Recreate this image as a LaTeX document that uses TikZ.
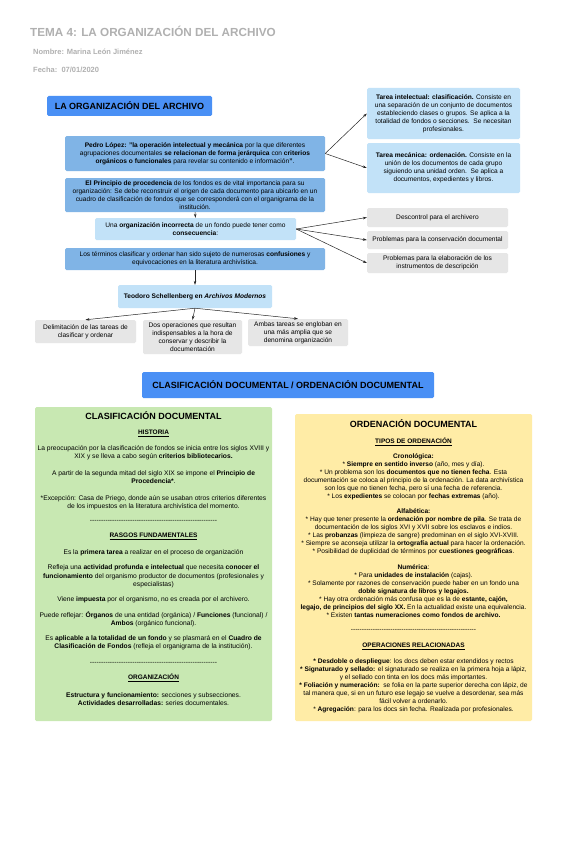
\documentclass[tikz,border=0pt]{standalone}
\usepackage{fontspec}
\setmainfont{Liberation Sans}
\usetikzlibrary{arrows.meta}
\definecolor{bblue}{RGB}{74,144,245}
\definecolor{mblue}{RGB}{128,180,230}
\definecolor{lblue}{RGB}{194,226,248}
\definecolor{gbox}{RGB}{230,230,230}
\definecolor{gfill}{RGB}{200,232,178}
\definecolor{yfill}{RGB}{255,236,166}
\definecolor{ttl}{RGB}{176,176,176}
\newcommand\hy{-\kern0pt}
\newcommand\dashrow{\foreach \i in {1,...,57}{\hy}}
\begin{document}
\begin{tikzpicture}[x=1pt,y=-1pt,
  bx/.style={rounded corners=1.5pt, align=center, inner sep=0pt, font=\fontsize{6.6}{8}\selectfont},
  arr/.style={-{Stealth[length=4pt,width=2.6pt]}, line width=0.5pt, black!85},
  gtxt/.style={align=center, inner sep=0pt, font=\fontsize{6.7}{8.4}\selectfont},
  ytxt/.style={align=center, inner sep=0pt, font=\fontsize{6.6}{8}\selectfont},
  head/.style={align=center, inner sep=0pt, font=\bfseries\fontsize{9}{11}\selectfont},
  sub/.style={align=center, inner sep=0pt, font=\bfseries\fontsize{6.5}{8}\selectfont},
  hdr/.style={anchor=west, inner sep=0pt, text=ttl}
  ]
\useasboundingbox (0,0) rectangle (569,848);
\fill[white] (0,0) rectangle (569,848);

% header
\node[hdr, font=\bfseries\fontsize{11.7}{14}\selectfont] (title) at (30,31) {TEMA 4: LA ORGANIZACIÓN DEL ARCHIVO};
\node[hdr, font=\bfseries\fontsize{7.5}{9}\selectfont] (name) at (33,52) {Nombre: Marina León Jiménez};
\node[hdr, font=\bfseries\fontsize{7.5}{9}\selectfont] (date) at (33,70) {Fecha:\ \ 07/01/2020};

% top diagram
\node[bx, fill=bblue, minimum width=165, minimum height=20, font=\bfseries\fontsize{9}{11}\selectfont] (main) at (129.5,106) {LA ORGANIZACIÓN DEL ARCHIVO};

\node[bx, fill=mblue, minimum width=260, minimum height=35] (pedro) at (195,153.5)
{\textbf{Pedro López: "la operación intelectual y mecánica} por la que diferentes\\
agrupaciones documentales \textbf{se relacionan de forma jerárquica} con \textbf{criterios}\\
\textbf{orgánicos o funcionales} para revelar su contenido e información\textbf{"}.};

\node[bx, fill=mblue, minimum width=260, minimum height=34] (princ) at (195,195)
{\textbf{El Principio de procedencia} de los fondos es de vital importancia para su\\
organización: Se debe reconstruir el origen de cada documento para ubicarlo en un\\
cuadro de clasificación de fondos que se corresponderá con el organigrama de la\\
institución.};

\node[bx, fill=lblue, minimum width=201, minimum height=22] (unaorg) at (195.5,229)
{Una \textbf{organización incorrecta} de un fondo puede tener como\\ \textbf{consecuencia}:};

\node[bx, fill=mblue, minimum width=260, minimum height=22] (term) at (195,259)
{Los términos clasificar y ordenar han sido sujeto de numerosas \textbf{confusiones} y\\
equivocaciones en la literatura archivística.};

\node[bx, fill=lblue, minimum width=154, minimum height=23] (teo) at (195,296.5)
{\textbf{Teodoro Schellenberg en \textit{Archivos Modernos}}};

\node[bx, fill=gbox, minimum width=101, minimum height=23] (g1) at (85.5,331.5)
{Delimitación de las tareas de\\ clasificar y ordenar};
\node[bx, fill=gbox, minimum width=99, minimum height=34] (g2) at (192.5,337)
{Dos operaciones que resultan\\ indispensables a la hora de\\ conservar y describir la\\ documentación};
\node[bx, fill=gbox, minimum width=100, minimum height=27] (g3) at (298,332.5)
{Ambas tareas se engloban en\\ una más amplia que se\\ denomina organización};

\node[bx, fill=lblue, minimum width=153, minimum height=51] (t1) at (443.5,113.5)
{\textbf{Tarea intelectual: clasificación.} Consiste en\\
una separación de un conjunto de documentos\\
estableciendo clases o grupos. Se aplica a la\\
totalidad de fondos o secciones.\ \ Se necesitan\\
profesionales.};
\node[bx, fill=lblue, minimum width=153, minimum height=50] (t2) at (443.5,168)
{\textbf{Tarea mecánica: ordenación.} Consiste en la\\
unión de los documentos de cada grupo\\
siguiendo una unidad orden.\ \ Se aplica a\\
documentos, expedientes y libros.};

\node[bx, fill=gbox, minimum width=141, minimum height=19] (d1) at (437.5,217.5) {Descontrol para el archivero};
\node[bx, fill=gbox, minimum width=141, minimum height=18] (d2) at (437.5,240) {Problemas para la conservación documental};
\node[bx, fill=gbox, minimum width=141, minimum height=20] (d3) at (437.5,263) {Problemas para la elaboración de los\\ instrumentos de descripción};

\draw[arr] (pedro.east) -- (t1.west);
\draw[arr] (pedro.east) -- (t2.west);
\draw[arr] (princ.south) -- (unaorg.north);
\draw[arr] (unaorg.east) -- (d1.west);
\draw[arr] (unaorg.east) -- (d2.west);
\draw[arr] (unaorg.east) -- (d3.west);
\draw[arr] (term.south) -- (teo.north);
\draw[arr] (teo.south) -- (g1.north);
\draw[arr] (teo.south) -- (g2.north);
\draw[arr] (teo.south) -- (g3.north);

% banner
\node[bx, fill=bblue, minimum width=292, minimum height=26, font=\bfseries\fontsize{9}{11}\selectfont] (banner) at (288,385) {CLASIFICACIÓN DOCUMENTAL / ORDENACIÓN DOCUMENTAL};

% green panel
\node[bx, fill=gfill, minimum width=237, minimum height=314] (green) at (153.5,564) {};
\node[head] (gtitle) at (153.5,416) {CLASIFICACIÓN DOCUMENTAL};
\node[sub] (ghist) at (153.5,433) {\underline{HISTORIA}};
\node[gtxt] (gp1) at (153.5,452.5) {La preocupación por la clasificación de fondos se inicia entre los siglos XVIII y\\ XIX y se lleva a cabo según \textbf{criterios bibliotecarios.}};
\node[gtxt] (gp2) at (153.5,477) {A partir de la segunda mitad del siglo XIX se impone el \textbf{Principio de}\\ \textbf{Procedencia*}.};
\node[gtxt] (gp3) at (153.5,502.5) {*Excepción: Casa de Priego, donde aún se usaban otros criterios diferentes\\ de los impuestos en la literatura archivística del momento.};
\node[gtxt] (gd1) at (153.5,521) {\dashrow};
\node[sub] (grasg) at (153.5,536) {\underline{RASGOS FUNDAMENTALES}};
\node[gtxt] (gp4) at (153.5,553) {Es la \textbf{primera tarea} a realizar en el proceso de organización};
\node[gtxt] (gp5) at (153.5,576.5) {Refleja una \textbf{actividad profunda e intelectual} que necesita \textbf{conocer el}\\ \textbf{funcionamiento} del organismo productor de documentos (profesionales y\\ especialistas)};
\node[gtxt] (gp6) at (153.5,600) {Viene \textbf{impuesta} por el organismo, no es creada por el archivero.};
\node[gtxt] (gp7) at (153.5,619) {Puede reflejar: \textbf{Órganos} de una entidad (orgánica) / \textbf{Funciones} (funcional) /\\ \textbf{Ambos} (orgánico funcional).};
\node[gtxt] (gp8) at (153.5,643) {Es \textbf{aplicable a la totalidad de un fondo} y se plasmará en el \textbf{Cuadro de}\\ \textbf{Clasificación de Fondos} (refleja el organigrama de la institución).};
\node[gtxt] (gd2) at (153.5,663) {\dashrow};
\node[sub] (gorg) at (153.5,678) {\underline{ORGANIZACIÓN}};
\node[gtxt] (gp9) at (153.5,699) {\textbf{Estructura y funcionamiento:} secciones y subsecciones.\\ \textbf{Actividades desarrolladas:} series documentales.};

% yellow panel
\node[bx, fill=yfill, minimum width=237, minimum height=307] (yellow) at (413.5,567.5) {};
\node[head] (ytitle) at (413.5,424) {ORDENACIÓN DOCUMENTAL};
\node[sub] (ytipos) at (413.5,442) {\underline{TIPOS DE ORDENACIÓN}};
\node[ytxt] (yp1) at (413.5,477) {\textbf{Cronológica:}\\
* \textbf{Siempre en sentido inverso} (año, mes y día).\\
* Un problema son los \textbf{documentos que no tienen fecha}. Esta\\
documentación se coloca al principio de la ordenación. La data archivística\\
son los que no tienen fecha, pero sí una fecha de referencia.\\
* Los \textbf{expedientes} se colocan por \textbf{fechas extremas} (año).};
\node[ytxt] (yp2) at (413.5,532) {\textbf{Alfabética:}\\
* Hay que tener presente la \textbf{ordenación por nombre de pila}. Se trata de\\
documentación de los siglos XVI y XVII sobre los esclavos e indios.\\
* Las \textbf{probanzas} (limpieza de sangre) predominan en el siglo XVI-XVIII.\\
* Siempre se aconseja utilizar la \textbf{ortografía actual} para hacer la ordenación.\\
* Posibilidad de duplicidad de términos por \textbf{cuestiones geográficas}.};
\node[ytxt] (yp3) at (413.5,591) {\textbf{Numérica}:\\
* Para \textbf{unidades de instalación} (cajas).\\
* Solamente por razones de conservación puede haber en un fondo una\\
\textbf{doble signatura de libros y legajos.}\\
* Hay otra ordenación más confusa que es la de \textbf{estante, cajón,}\\
\textbf{legajo, de principios del siglo XX.} En la actualidad existe una equivalencia.\\
* Existen \textbf{tantas numeraciones como fondos de archivo.}};
\node[ytxt] (yd1) at (413.5,630) {\dashrow};
\node[sub] (yops) at (413.5,646) {\underline{OPERACIONES RELACIONADAS}};
\node[ytxt] (yp4) at (413.5,685.5) {\textbf{* Desdoble o despliegue}: los docs deben estar extendidos y rectos\\
\textbf{* Signaturado y sellado:} el signaturado se realiza en la primera hoja a lápiz,\\
y el sellado con tinta en los docs más importantes.\\
\textbf{* Foliación y numeración:}\ \ se folia en la parte superior derecha con lápiz, de\\
tal manera que, si en un futuro ese legajo se vuelve a desordenar, sea más\\
fácil volver a ordenarlo.\\
* \textbf{Agregación}: para los docs sin fecha. Realizada por profesionales.};
\end{tikzpicture}
\end{document}
